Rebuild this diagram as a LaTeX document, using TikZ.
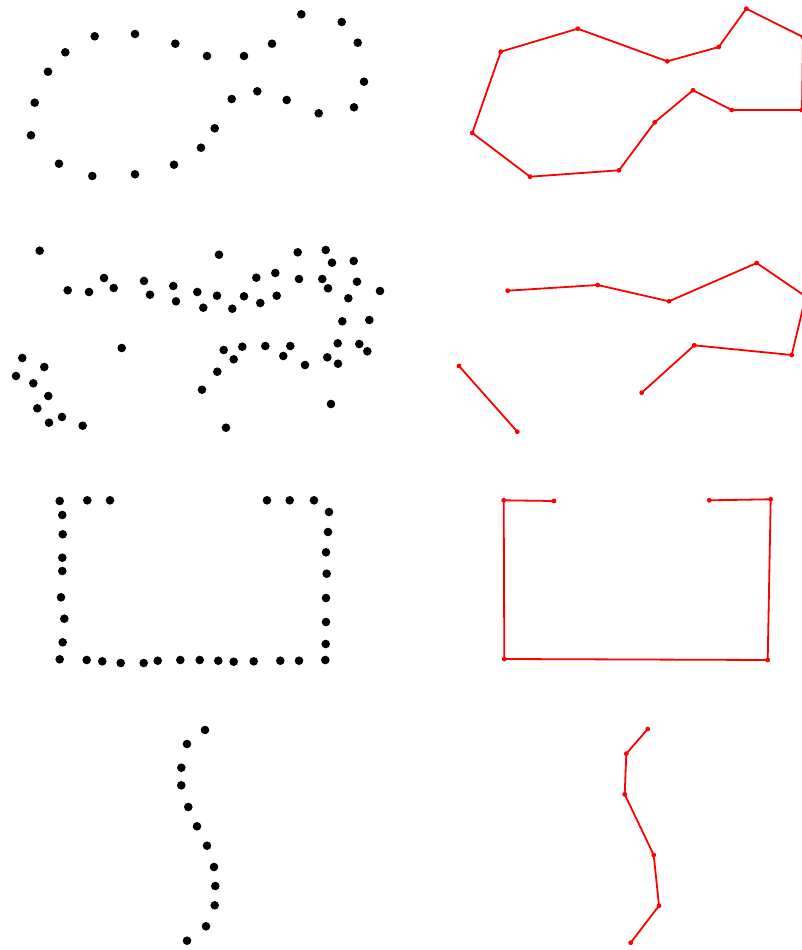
\documentclass[tikz,border=0pt]{standalone}
\begin{document}
\begin{tikzpicture}[x=1pt,y=-1pt,
  bdot/.style={circle,fill=black,draw=none,inner sep=0pt,minimum size=8.6pt},
  rdot/.style={circle,fill=red,draw=none,inner sep=0pt,minimum size=4.8pt},
  rline/.style={draw=red,line width=1.8pt,line join=round}]
\useasboundingbox[fill=white] (0,0) rectangle (802,950);
% ---------- row 1: dots ----------
\foreach \x/\y [count=\i] in {301.3/14.3,341.7/22,357.7/42.7,364/81.7,354/107.3,318.7/113.3,286.7/100,257.3/91.3,231.7/99,214.7/128.3,201/147.7,174/164.7,135/174.3,92.3/176,59/163.7,31/135.3,34.7/102.7,48/71.7,65.3/52.3,94.7/36.3,135/34,175.3/43.7,207/56,244/56,272/43.7}
  \node[bdot] (a\i) at (\x,\y) {};
% ---------- row 1: red contour ----------
\foreach \x/\y [count=\i] in {500.7/51.7,577.7/28.7,667.3/61.3,718.7/47,746.3/8.7,803/37,802/110,731.7/110,693/90.3,654.7/122.3,619/170.3,530/176.7,472.3/133}
  \node[rdot] (r\i) at (\x,\y) {};
\draw[rline] (r1.center) -- (r2.center) -- (r3.center) -- (r4.center) -- (r5.center) -- (r6.center) -- (r7.center) -- (r8.center) -- (r9.center) -- (r10.center) -- (r11.center) -- (r12.center) -- (r13.center) -- cycle;
% ---------- row 2: dots ----------
\foreach \x/\y [count=\i] in {39.7/250.7,219/254.7,297.7/252.3,325.7/250,332/262.7,353.7/261,67.7/290.3,89/292,104/278,113.7/288,144/281,150/294.7,173.3/286,176/301.3,197.3/292,203.3/307.7,217/295.7,232.3/308.7,244/296.3,256.3/277.7,260.3/303,275.3/273,276.7/295.7,299/279,322.3/279,328/288.3,357/281.7,348.3/298.3,380/291,342.3/321.3,369.3/320,121.7/348,337.7/343.3,359.3/344,367.3/351.3,223.7/350,242.3/346.7,265.3/346,290.3/346,283.3/356,233.7/359.3,305/365,327.3/357.3,338/363.7,217.3/371.7,202/389.7,331/404,226/427.7,22.3/358,44.3/367,16/376,33.3/383.3,48.3/396,37.3/408.3,62/417,49/422.7,82.7/425.7}
  \node[bdot] (b\i) at (\x,\y) {};
% ---------- row 2: red contours ----------
\foreach \x/\y [count=\i] in {507.7/290.7,597.7/285,669/301.3,756.7/263,805.7/296.5,791.7/355,694.3/345.3,641.7/392.7,459/366,517.3/431.7}
  \node[rdot] (s\i) at (\x,\y) {};
\draw[rline] (s1.center) -- (s2.center) -- (s3.center) -- (s4.center) -- (s5.center) -- (s6.center) -- (s7.center) -- (s8.center);
\draw[rline] (s9.center) -- (s10.center);
% ---------- row 3: dots ----------
\foreach \x/\y [count=\i] in {59.7/501,87.3/500.3,110/500.3,267/500.3,289.7/500.3,314/500.3,329/512,62.3/515,328/532,62.7/534.3,326/552.3,62.3/557.7,62.3/571,326.7/573.7,61/597.3,326/598,64.3/618.7,326/622,62.7/642.3,325.7/644,59.7/659.3,86.7/660,102.3/661.3,120.7/663,143.7/663,157.7/660.7,180.3/660,199.7/660,218.3/660.7,233.7/661.7,253.7/661.3,280.3/660.7,299/660.7,325.3/660}
  \node[bdot] (c\i) at (\x,\y) {};
% ---------- row 3: red contour ----------
\foreach \x/\y [count=\i] in {554/501,503.7/500.3,504.3/659,767.7/660,770.7/499.3,709.3/500.3}
  \node[rdot] (t\i) at (\x,\y) {};
\draw[rline] (t1.center) -- (t2.center) -- (t3.center) -- (t4.center) -- (t5.center) -- (t6.center);
% ---------- row 4: dots ----------
\foreach \x/\y [count=\i] in {205/730,187/744,181.3/767.7,181.3/785.3,188.3/807,197/826.3,207/845.7,214/867,215.3/886,214.7/905.3,206/926.3,187/940.7}
  \node[bdot] (d\i) at (\x,\y) {};
% ---------- row 4: red contour ----------
\foreach \x/\y [count=\i] in {647.7/729,626.3/753.7,624.7/794.3,653.7/855,659/905.7,630.7/942.7}
  \node[rdot] (u\i) at (\x,\y) {};
\draw[rline] (u1.center) -- (u2.center) -- (u3.center) -- (u4.center) -- (u5.center) -- (u6.center);
\end{tikzpicture}
\end{document}
